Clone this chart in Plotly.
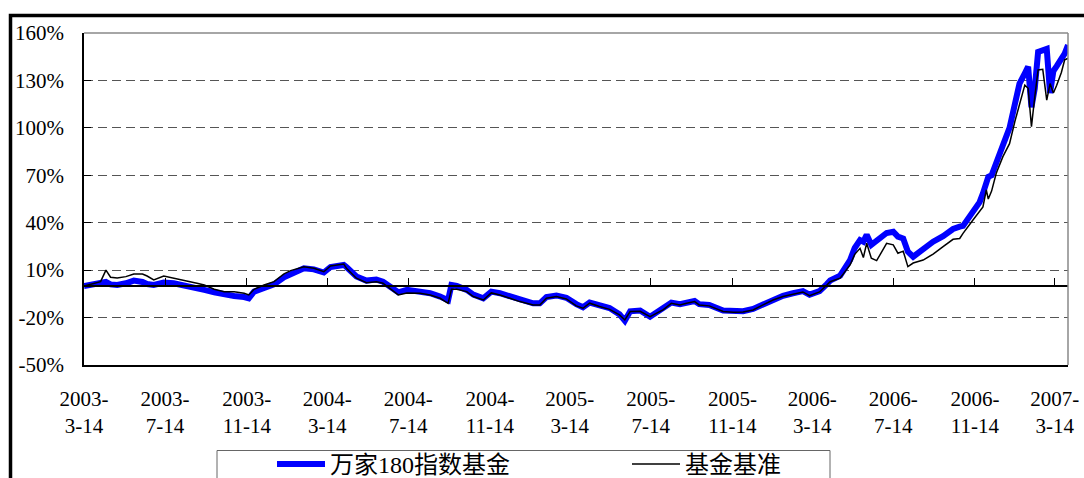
import pandas as pd
import plotly.graph_objects as go

# ---- data ----
start_date = "2003-03-14"
# day offsets from start_date
days = [0, 15, 25, 33, 40, 50, 63, 75, 88, 95, 105, 120, 135, 150, 170, 181, 196, 211, 226, 241,
        248, 256, 271, 286, 301, 311, 331, 346, 361, 371, 391, 395, 410, 425, 440, 450, 460, 473,
        486, 506, 521, 536, 548, 553, 561, 576, 586, 601, 613, 626, 641, 656, 676, 686, 696, 711,
        726, 741, 751, 761, 776, 791, 806, 814, 822, 837, 852, 862, 872, 884, 897, 907, 919, 926,
        941, 962, 977, 992, 1007, 1022, 1037, 1052, 1067, 1082, 1092, 1107, 1118, 1123, 1138, 1153,
        1160, 1168, 1173, 1178, 1185, 1193, 1208, 1218, 1225, 1233, 1240, 1248, 1263, 1278, 1293,
        1308, 1318, 1323, 1338, 1348, 1353, 1358, 1361, 1366, 1373, 1383, 1393, 1401, 1408, 1416,
        1421, 1426, 1431, 1436, 1443, 1449, 1454, 1459, 1464, 1471, 1476, 1481]

fund = [0, 0.8, 1.5, 2.5, 1.0, 0.6, 1.7, 3.4, 2.5, 1.2, 0.6, 2.1, 1.7, 0.6, -1.5, -2.5, -4.0, -5.5,
        -6.3, -7.0, -7.8, -3.6, -1.5, 1.0, 5.5, 7.6, 11.2, 10.5, 8.5, 12.0, 13.3, 12.0, 6.0, 3.4,
        4.0, 2.7, -0.4, -4.0, -2.5, -3.6, -4.6, -6.7, -9.0, 0.6, 0.0, -2.5, -5.5, -7.8, -3.6, -4.6,
        -6.7, -8.9, -11.0, -11.0, -7.0, -6.0, -7.5, -11.5, -13.5, -10.5, -12.5, -14.0, -18.0, -22.0,
        -16.0, -15.5, -19.5, -17.0, -14.5, -10.5, -11.5, -10.5, -9.5, -11.5, -12.0, -15.5, -16.0,
        -16.0, -14.5, -11.5, -8.5, -6.2, -4.6, -3.3, -5.5, -3.3, 1.2, 3.4, 6.5, 16.4, 24.0, 29.0,
        28.0, 32.3, 26.0, 28.5, 33.5, 34.3, 31.2, 30.0, 21.7, 18.5, 23.8, 28.0, 31.5, 36.0, 37.5,
        38.0, 47.0, 53.0, 58.6, 65.0, 69.0, 70.0, 77.0, 89.0, 100.0, 115.0, 128.0, 134.5, 138.7,
        113.0, 125.0, 148.0, 149.5, 150.0, 122.0, 136.0, 139.0, 143.0, 147.0, 152.4]

bench = [0, 1.7, 2.7, 10.0, 5.5, 5.0, 5.9, 7.6, 7.6, 6.3, 3.8, 6.3, 5.0, 3.8, 1.7, 0.6, -2.1, -3.6,
         -3.6, -4.6, -5.7, -2.1, 0.6, 2.7, 7.6, 9.7, 12.2, 11.2, 9.0, 12.6, 13.9, 11.2, 4.9, 2.1,
         2.7, 1.7, -1.5, -5.7, -4.4, -4.6, -5.7, -7.8, -11.0, -2.1, -2.1, -3.6, -6.7, -8.9, -4.4,
         -5.7, -7.8, -9.9, -12.0, -12.0, -7.8, -6.7, -8.2, -12.6, -14.1, -10.9, -13.0, -14.8, -18.3,
         -21.5, -16.2, -16.0, -19.4, -17.3, -15.0, -11.0, -12.0, -11.0, -9.9, -12.0, -12.6, -16.2,
         -16.7, -16.5, -15.2, -12.0, -8.9, -6.7, -5.1, -3.8, -6.1, -3.8, 0.6, 2.7, 4.9, 13.3, 20.0,
         23.8, 18.0, 27.0, 17.5, 16.0, 27.0, 26.0, 20.7, 22.0, 12.2, 14.5, 16.4, 20.2, 24.9, 29.5,
         30.0, 33.3, 41.7, 47.0, 50.0, 60.7, 55.0, 60.0, 71.3, 81.8, 90.0, 104.0, 115.5, 127.0,
         125.0, 100.8, 119.7, 136.6, 137.0, 117.6, 128.0, 122.0, 127.0, 135.0, 143.0, 144.0]

series_names = ["万家180指数基金", "基金基准"]

tick_dates = ["2003-03-14", "2003-07-14", "2003-11-14", "2004-03-14", "2004-07-14", "2004-11-14",
              "2005-03-14", "2005-07-14", "2005-11-14", "2006-03-14", "2006-07-14", "2006-11-14",
              "2007-03-14"]
tick_labels = ["2003-<br>3-14", "2003-<br>7-14", "2003-<br>11-14", "2004-<br>3-14", "2004-<br>7-14",
               "2004-<br>11-14", "2005-<br>3-14", "2005-<br>7-14", "2005-<br>11-14", "2006-<br>3-14",
               "2006-<br>7-14", "2006-<br>11-14", "2007-<br>3-14"]
y_ticks = [-50, -20, 10, 40, 70, 100, 130, 160]
y_labels = ["-50%", "-20%", "10%", "40%", "70%", "100%", "130%", "160%"]
x_range = ["2003-03-14", "2007-04-03"]

dates = pd.to_datetime(start_date) + pd.to_timedelta(days, unit="D")

# ---- figure ----
W, H = 1084, 478
L, R, T, B = 84, 16, 33, 113
pw, ph = W - L - R, H - T - B


def px_x(px):
    return (px - L) / pw


def px_y(py):
    return (H - B - py) / ph


serif = "Liberation Serif"
legend_font = "'Liberation Serif', 'Noto Sans CJK SC'"

fig = go.Figure()
fig.add_trace(go.Scatter(x=dates, y=fund, name=series_names[0], mode="lines",
                         line=dict(color="#0000FF", width=6)))
fig.add_trace(go.Scatter(x=dates, y=bench, name=series_names[1], mode="lines", xaxis="x2",
                         line=dict(color="#000000", width=1.5)))

fig.update_layout(
    width=W, height=H, autosize=False,
    margin=dict(l=L, r=R, t=T, b=B, pad=0, autoexpand=False),
    paper_bgcolor="white", plot_bgcolor="white",
    font=dict(family=serif, size=21, color="black"),
    xaxis=dict(type="date", range=x_range, tickvals=tick_dates, ticktext=tick_labels,
               showline=True, linecolor="black", linewidth=1.5, ticks="", showgrid=False,
               zeroline=False, tickfont=dict(size=21, family=serif), ticklabelstandoff=14,
               automargin=False),
    xaxis2=dict(type="date", range=x_range, overlaying="x", anchor="free",
                position=50 / 210, tickvals=tick_dates, ticks="inside", ticklen=7,
                tickcolor="black", tickwidth=1, showticklabels=False, showline=True,
                linecolor="black", linewidth=1.5, showgrid=False, zeroline=False,
                automargin=False),
    yaxis=dict(range=[-50, 160], tickvals=y_ticks, ticktext=y_labels, showgrid=True,
               gridcolor="#555555", griddash="9px,5px", gridwidth=1, showline=True,
               linecolor="black", linewidth=1.5, ticks="inside", ticklen=7,
               tickcolor="black", zeroline=False, tickfont=dict(size=21, family=serif),
               ticklabelstandoff=14, automargin=False),
    showlegend=True,
    legend=dict(orientation="h", x=px_x(217), xanchor="left", y=px_y(442), yanchor="top",
                bgcolor="rgba(0,0,0,0)", borderwidth=0, indentation=55, itemwidth=48,
                entrywidth=237, entrywidthmode="pixels",
                font=dict(family=legend_font, size=24, color="black")),
    shapes=[
        # plot area border top/right (gray)
        dict(type="line", xref="paper", yref="paper", x0=0, x1=1, y0=1, y1=1,
             line=dict(color="#888888", width=1.5)),
        dict(type="line", xref="paper", yref="paper", x0=1, x1=1, y0=0, y1=1,
             line=dict(color="#888888", width=1.5)),
        # outer chart frame (black, thick)
        dict(type="path", xref="paper", yref="paper",
             path=f"M {px_x(10.5)} {px_y(500)} L {px_x(10.5)} {px_y(15.5)} L {px_x(1100)} {px_y(15.5)}",
             line=dict(color="black", width=3.5)),
        # legend box
        dict(type="rect", xref="paper", yref="paper", x0=px_x(217), x1=px_x(830),
             y0=px_y(500), y1=px_y(450.5), line=dict(color="#666666", width=1)),
    ],
)

fig.write_html("out.html", config={"displayModeBar": False},
               post_script="document.body.style.margin='0';document.body.style.padding='0';")
